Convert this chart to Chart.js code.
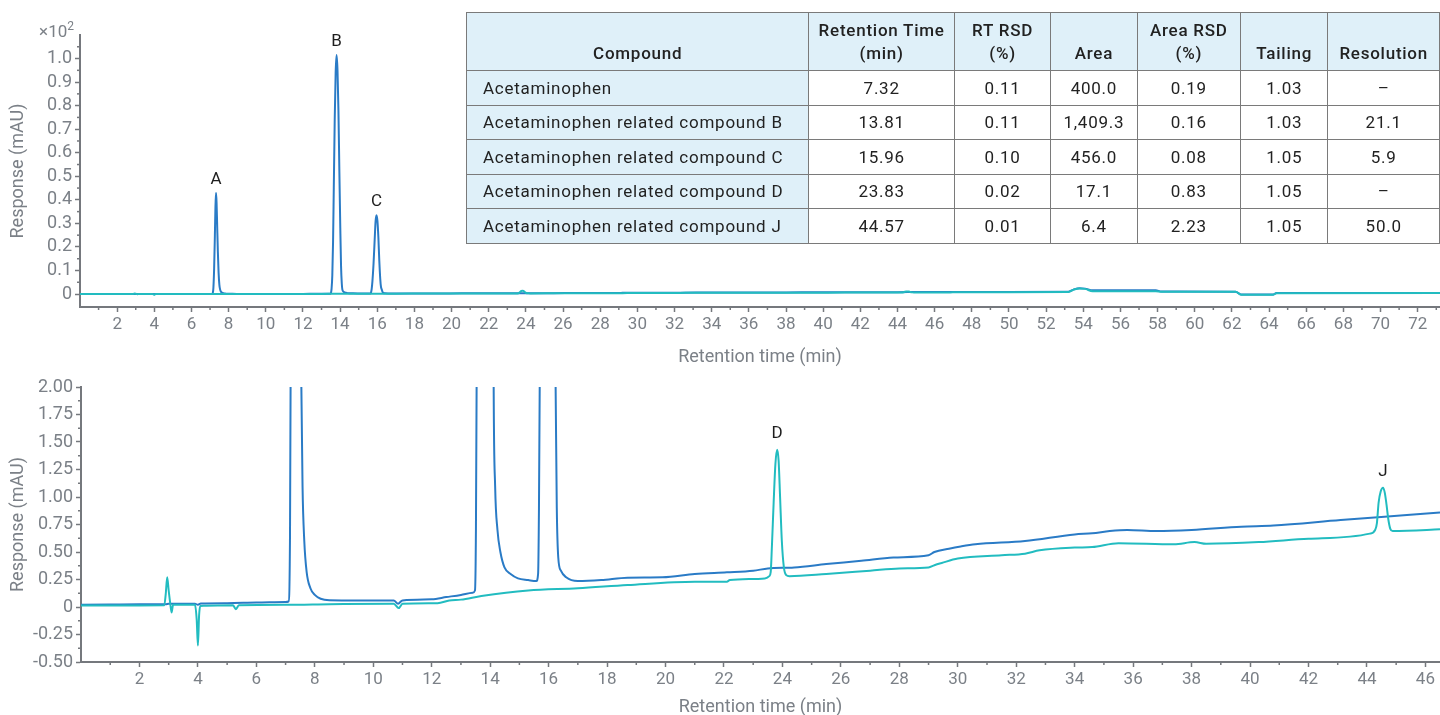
<!DOCTYPE html>
<html>
<head>
<meta charset="utf-8">
<script src="https://cdn.jsdelivr.net/npm/chart.js@4.4.1/dist/chart.umd.min.js"></script>
<style>
  html, body { margin: 0; padding: 0; background: #ffffff; width: 1440px; height: 715px; overflow: hidden; font-family: Roboto, "Liberation Sans", sans-serif; }
  #wrap { position: relative; width: 1440px; height: 715px; overflow: hidden; }
  canvas { position: absolute; left: 0; }
  #topCanvas { top: 0; }
  #botCanvas { top: 370px; }
  #scaleNote { position: absolute; right: calc(1440px - 74px); top: 21px; font-size: 17px; color: #7b8087; white-space: nowrap; }
  #scaleNote sup { font-size: 12px; vertical-align: 7px; line-height: 0; }
  table { position: absolute; left: 466px; top: 12px; border-collapse: collapse; table-layout: fixed; font-size: 17px; letter-spacing: 0.75px; color: #222; }
  td, th { border: 1.5px solid #7a7a7a; padding: 0 4px; text-align: center; white-space: nowrap; }
  th { background: #dff0f9; font-weight: 500; height: 52px; vertical-align: bottom; padding-bottom: 5px; line-height: 23px; }
  td { height: 33.5px; vertical-align: middle; background: #ffffff; }
  td.first { background: #dff0f9; text-align: left; padding-left: 16px; }
</style>
</head>
<body>
<div id="wrap">
  <canvas id="topCanvas" width="1440" height="370"></canvas>
  <canvas id="botCanvas" width="1440" height="345"></canvas>
  <div id="scaleNote">×10<sup>2</sup></div>
  <table id="tbl"></table>
</div>
<script>
// ---------------- DATA ----------------
// Standard trace (blue): retention time (min) and response (mAU)
const stdTimes = [0.0, 1.0, 2.0, 2.9, 3.0, 3.9, 4.0, 4.1, 5.0, 6.0, 7.0, 7.10,
  7.15, 7.18, 7.22, 7.26, 7.29, 7.32, 7.35, 7.38, 7.42, 7.46, 7.50, 7.54, 7.58, 7.64, 7.72, 7.85, 8.0, 8.2, 8.5,
  9.5, 10.7, 10.85, 11.0, 12.0, 12.5, 13.0, 13.4,
  13.48, 13.51, 13.54, 13.58, 13.62, 13.66, 13.71, 13.76, 13.81, 13.86, 13.91, 13.96, 14.01, 14.05, 14.09, 14.12, 14.17, 14.25, 14.35, 14.49, 14.7, 14.95, 15.3, 15.58,
  15.64, 15.67, 15.70, 15.74, 15.80, 15.86, 15.91, 15.96, 16.01, 16.06, 16.11, 16.16, 16.20, 16.24, 16.28, 16.33, 16.42, 16.6, 17.0,
  17.8, 18.7, 19.9, 21.0, 22.1, 23.0, 23.5, 24.4, 25.5, 26.7, 27.8, 29.0, 29.2, 29.7, 30.1, 30.6, 32.3, 34.0, 34.6, 35.2, 35.8, 36.8, 38.0, 39.7, 40.8, 43.1, 44.6, 46.5,
  50.0, 53.2, 53.5, 53.8, 54.1, 54.5, 57.9, 58.2, 62.2, 62.5, 64.2, 64.4, 73.5];
const stdResp = [0.020, 0.022, 0.024, 0.025, 0.030, 0.030, 0.020, 0.032, 0.035, 0.040, 0.045, 0.05,
  0.6, 2.6, 11, 25, 37, 43.0, 39, 30, 18, 9, 4.0, 2.0, 1.1, 0.6, 0.32, 0.17, 0.11, 0.075, 0.062,
  0.060, 0.060, 0.030, 0.060, 0.070, 0.090, 0.110, 0.130,
  0.15, 0.6, 2.2, 8, 22, 45, 74, 94, 101.5, 95, 78, 52, 28, 12, 4.5, 2.0, 1.1, 0.7, 0.5, 0.36, 0.30, 0.26, 0.245, 0.236,
  0.3, 0.9, 2.2, 5.5, 13, 23, 31, 33.5, 31, 24, 14, 6.5, 3.0, 2.0, 0.9, 0.45, 0.33, 0.27, 0.236,
  0.245, 0.267, 0.27, 0.30, 0.315, 0.33, 0.35, 0.36, 0.39, 0.42, 0.45, 0.47, 0.50, 0.53, 0.55, 0.57, 0.60, 0.66, 0.67, 0.69, 0.70, 0.69, 0.70, 0.73, 0.74, 0.79, 0.82, 0.86,
  0.92, 0.98, 2.0, 2.5, 2.3, 1.6, 1.6, 1.1, 1.0, -0.2, -0.2, 0.4, 0.5];

// Sample trace (teal)
const smpTimes = [0.0, 1.0, 2.0, 2.85, 2.90, 2.95, 3.0, 3.05, 3.1, 3.15, 3.9, 3.96, 4.0, 4.04, 4.08, 4.2, 5.2, 5.3, 5.4,
  7.0, 8.5, 10.7, 10.87, 11.0, 12.2, 12.6, 13.0, 13.7, 15.3, 17.0, 18.7, 21.0, 22.1, 22.2, 23.4, 23.55,
  23.60, 23.64, 23.70, 23.76, 23.82, 23.87, 23.92, 23.98, 24.05, 24.13, 24.24,
  25.5, 27.0, 28.0, 29.0, 29.2, 29.45, 30.0, 31.5, 32.3, 32.8, 34.0, 34.6, 35.5, 37.4, 38.1, 38.5, 40.3, 42.0, 44.1, 44.28,
  44.34, 44.40, 44.47, 44.55, 44.61, 44.67, 44.73, 44.80, 44.88, 46.5,
  50.0, 53.2, 53.5, 53.8, 54.1, 54.5, 57.9, 58.2, 62.2, 62.5, 64.2, 64.4, 73.5];
const smpResp = [0.013, 0.013, 0.014, 0.015, 0.12, 0.27, 0.15, 0.04, -0.05, 0.02, 0.02, -0.12, -0.35, -0.08, 0.01, 0.012, 0.015, -0.02, 0.015,
  0.020, 0.025, 0.030, -0.010, 0.030, 0.035, 0.060, 0.067, 0.100, 0.150, 0.170, 0.200, 0.230, 0.230, 0.245, 0.260, 0.280,
  0.32, 0.55, 0.95, 1.30, 1.43, 1.33, 1.00, 0.60, 0.36, 0.29, 0.28,
  0.30, 0.33, 0.35, 0.36, 0.38, 0.40, 0.44, 0.47, 0.485, 0.515, 0.54, 0.545, 0.58, 0.57, 0.59, 0.575, 0.59, 0.62, 0.667, 0.70,
  0.76, 0.95, 1.05, 1.085, 1.04, 0.93, 0.80, 0.71, 0.69, 0.706,
  0.75, 0.85, 1.9, 2.4, 2.2, 1.2, 1.2, 1.0, 0.95, -0.3, -0.3, 0.35, 0.45];

// Tick labels
const topYTicks = [0, 0.1, 0.2, 0.3, 0.4, 0.5, 0.6, 0.7, 0.8, 0.9, 1.0];
const botYTicks = [-0.5, -0.25, 0, 0.25, 0.5, 0.75, 1.0, 1.25, 1.5, 1.75, 2.0];
const topXTicks = [2,4,6,8,10,12,14,16,18,20,22,24,26,28,30,32,34,36,38,40,42,44,46,48,50,52,54,56,58,60,62,64,66,68,70,72];
const botXTicks = [2,4,6,8,10,12,14,16,18,20,22,24,26,28,30,32,34,36,38,40,42,44,46];

// Peak annotations
const topPeakNames = ['A', 'B', 'C'];
const topPeakTimes = [7.32, 13.81, 15.96];
const botPeakNames = ['D', 'J'];
const botPeakTimes = [23.82, 44.55];

// Table
const tableHeaders = ['Compound', 'Retention Time<br>(min)', 'RT RSD<br>(%)', 'Area', 'Area RSD<br>(%)', 'Tailing', 'Resolution'];
const compounds = ['Acetaminophen', 'Acetaminophen related compound B', 'Acetaminophen related compound C', 'Acetaminophen related compound D', 'Acetaminophen related compound J'];
const retentionTimes = ['7.32', '13.81', '15.96', '23.83', '44.57'];
const rtRsd = ['0.11', '0.11', '0.10', '0.02', '0.01'];
const areas = ['400.0', '1,409.3', '456.0', '17.1', '6.4'];
const areaRsd = ['0.19', '0.16', '0.08', '0.83', '2.23'];
const tailing = ['1.03', '1.03', '1.05', '1.05', '1.05'];
const resolution = ['–', '21.1', '5.9', '–', '50.0'];

// ---------------- STYLE ----------------
const BLUE = '#2a7bc6';
const TEAL = '#22bcc0';
const AXIS = '#75787d';
const TICKTXT = '#7b8087';
const colWidths = [343, 146, 97, 87, 104, 88, 112];

// ---------------- TABLE ----------------
(function buildTable() {
  const t = document.getElementById('tbl');
  const cg = '<colgroup>' + colWidths.map(w => '<col style="width:' + w + 'px">').join('') + '</colgroup>';
  const h = '<tr>' + tableHeaders.map(x => '<th>' + x + '</th>').join('') + '</tr>';
  const rows = compounds.map((c, i) => '<tr><td class="first">' + c + '</td><td>' + retentionTimes[i] + '</td><td>' + rtRsd[i] +
    '</td><td>' + areas[i] + '</td><td>' + areaRsd[i] + '</td><td>' + tailing[i] + '</td><td>' + resolution[i] + '</td></tr>').join('');
  t.innerHTML = cg + h + rows;
})();

// ---------------- CHARTS ----------------
Chart.defaults.font.family = 'Roboto, "Liberation Sans", sans-serif';
Chart.defaults.color = TICKTXT;

function range(a, b, step) { const r = []; for (let v = a; v <= b + 1e-9; v += step) r.push(Math.round(v * 1000) / 1000); return r; }

const minorTicksPlugin = {
  id: 'minorTicks',
  afterDraw(chart, args, opts) {
    const ctx = chart.ctx, xs = chart.scales.x, ys = chart.scales.y;
    ctx.save();
    ctx.strokeStyle = AXIS; ctx.lineWidth = 1.5;
    (opts.x || []).forEach(v => {
      const px = xs.getPixelForValue(v);
      if (px < xs.left + 2 || px > xs.right) return;
      ctx.beginPath(); ctx.moveTo(px, xs.top); ctx.lineTo(px, xs.top + 3); ctx.stroke();
    });
    (opts.y || []).forEach(v => {
      const py = ys.getPixelForValue(v);
      if (py < ys.top || py > ys.bottom - 2) return;
      ctx.beginPath(); ctx.moveTo(ys.right, py); ctx.lineTo(ys.right - 3, py); ctx.stroke();
    });
    ctx.restore();
  }
};

const peakLabelPlugin = {
  id: 'peakLabels',
  afterDatasetsDraw(chart, args, opts) {
    const ctx = chart.ctx, xs = chart.scales.x, ys = chart.scales.y;
    const ds = chart.data.datasets[opts.datasetIndex].data;
    ctx.save();
    ctx.fillStyle = '#1e1e1e';
    ctx.font = '17px Roboto, "Liberation Sans", sans-serif';
    ctx.textAlign = 'center'; ctx.textBaseline = 'alphabetic';
    opts.names.forEach((name, i) => {
      const t = opts.times[i];
      const near = ds.filter(p => Math.abs(p.x - t) < 0.06);
      const apex = near.reduce((m, p) => (p.y > m ? p.y : m), -Infinity);
      ctx.fillText(name, xs.getPixelForValue(t), ys.getPixelForValue(apex) - opts.gap);
    });
    ctx.restore();
  }
};

function makeChart(canvasId, cfg) {
  const toPts = (times, resp) => times.map((t, i) => ({ x: t, y: resp[i] / cfg.divisor }));
  return new Chart(document.getElementById(canvasId), {
    type: 'line',
    data: {
      datasets: [
        { label: 'Sample', data: toPts(smpTimes, smpResp), borderColor: TEAL, borderWidth: 2, pointRadius: 0, cubicInterpolationMode: 'monotone', fill: false },
        { label: 'Standard', data: toPts(stdTimes, stdResp), borderColor: BLUE, borderWidth: 2, pointRadius: 0, cubicInterpolationMode: 'monotone', fill: false }
      ]
    },
    options: {
      responsive: false,
      animation: false,
      devicePixelRatio: 1,
      layout: { padding: { top: cfg.padTop, right: 0, left: 0, bottom: 0 } },
      plugins: {
        legend: { display: false },
        tooltip: { enabled: false },
        minorTicks: { x: cfg.minorX, y: cfg.minorY },
        peakLabels: { names: cfg.peakNames, times: cfg.peakTimes, datasetIndex: cfg.peakDataset, gap: cfg.labelGap }
      },
      scales: {
        x: {
          type: 'linear', min: 0, max: cfg.xMax,
          afterBuildTicks: s => { s.ticks = cfg.xTicks.map(v => ({ value: v })); },
          afterFit: s => { s.height = cfg.xAxisHeight; },
          grid: { drawOnChartArea: false, drawTicks: true, tickLength: 5, color: AXIS, tickWidth: 1.5 },
          border: { display: true, color: AXIS, width: 2 },
          ticks: { color: TICKTXT, font: { size: 17 }, padding: 3, maxRotation: 0, autoSkip: false, callback: v => String(v) },
          title: { display: true, text: 'Retention time (min)', color: TICKTXT, font: { size: 18, lineHeight: 1.0 }, padding: { top: 0, bottom: cfg.xTitlePad } }
        },
        y: {
          type: 'linear', min: cfg.yMin, max: cfg.yMax,
          afterBuildTicks: s => { s.ticks = cfg.yTicks.map(v => ({ value: v })); },
          afterFit: s => { s.width = cfg.yAxisWidth; },
          grid: { drawOnChartArea: false, drawTicks: true, tickLength: 5, color: AXIS, tickWidth: 1.5 },
          border: { display: true, color: AXIS, width: 2 },
          ticks: { color: TICKTXT, font: { size: 18 }, padding: 3, autoSkip: false, callback: cfg.yFmt },
          title: { display: true, text: 'Response (mAU)', color: TICKTXT, font: { size: 18, lineHeight: 1.2 }, padding: { top: 8, bottom: 0 } }
        }
      }
    },
    plugins: [minorTicksPlugin, peakLabelPlugin]
  });
}

makeChart('topCanvas', {
  divisor: 100, xMax: 73.2, yMin: -0.055, yMax: 1.10,
  xTicks: topXTicks, yTicks: topYTicks,
  minorX: range(1, 73, 2), minorY: range(-0.05, 1.05, 0.1),
  padTop: 35, xAxisHeight: 63, yAxisWidth: 80, xTitlePad: 4,
  yFmt: v => (v === 0 ? '0' : v.toFixed(1)),
  peakNames: topPeakNames, peakTimes: topPeakTimes, peakDataset: 1, labelGap: 9
});

makeChart('botCanvas', {
  divisor: 1, xMax: 46.5, yMin: -0.5, yMax: 2.0,
  xTicks: botXTicks, yTicks: botYTicks,
  minorX: range(1, 45, 2), minorY: range(-0.375, 1.875, 0.25),
  padTop: 17, xAxisHeight: 53, yAxisWidth: 81, xTitlePad: -1.5,
  yFmt: v => (v === 0 ? '0' : v.toFixed(2)),
  peakNames: botPeakNames, peakTimes: botPeakTimes, peakDataset: 0, labelGap: 12
});
</script>
</body>
</html>
